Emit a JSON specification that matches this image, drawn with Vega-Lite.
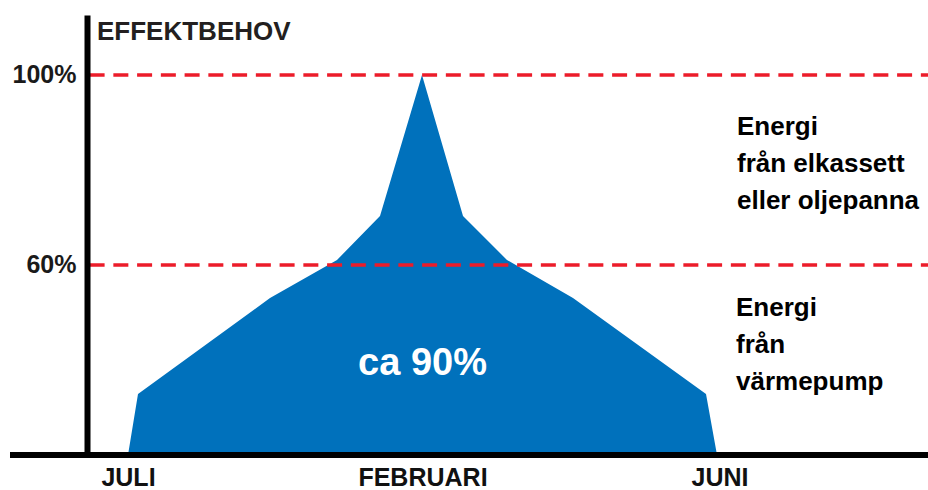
{
  "$schema": "https://vega.github.io/schema/vega-lite/v6.json",
  "width": 841,
  "height": 440,
  "autosize": {"type": "none"},
  "padding": {"left": 87, "top": 15, "right": 0, "bottom": 35},
  "background": "white",
  "config": {"view": {"stroke": null}, "font": "Liberation Sans"},
  "layer": [
    {
      "data": {"values": [
        {"t": 128, "effekt": 20},
        {"t": 138, "effekt": 32.84},
        {"t": 270, "effekt": 53.05},
        {"t": 337, "effekt": 61.05},
        {"t": 380, "effekt": 70.32},
        {"t": 422, "effekt": 100},
        {"t": 463, "effekt": 70.32},
        {"t": 507, "effekt": 61.05},
        {"t": 573, "effekt": 53.05},
        {"t": 706, "effekt": 32.84},
        {"t": 717, "effekt": 20}
      ]},
      "mark": {"type": "area", "color": "#0071bc", "interpolate": "linear"},
      "encoding": {
        "x": {"field": "t", "type": "quantitative", "scale": {"domain": [87, 928], "nice": false, "zero": false},
          "axis": {"title": null, "orient": "bottom", "domain": false, "ticks": false, "grid": false,
            "values": [128, 422.5, 719.5],
            "labelExpr": "datum.value < 200 ? 'JULI' : (datum.value < 600 ? 'FEBRUARI' : 'JUNI')",
            "labelFontSize": 25, "labelFontWeight": "bold", "labelColor": "#111111", "labelPadding": 10,
            "labelFlush": false, "labelOverlap": false, "labelBaseline": "top"}},
        "y": {"field": "effekt", "type": "quantitative", "scale": {"domain": [20, 112.63], "nice": false, "zero": false},
          "axis": {"title": null, "values": [60, 100], "labelExpr": "datum.value + '%'", "ticks": false, "grid": false,
            "domainWidth": 6, "domainColor": "#000000", "labelFontSize": 25, "labelFontWeight": "bold",
            "labelColor": "#1a1a1a", "labelPadding": 11, "zindex": 1, "labelFlush": false}},
        "y2": {"datum": 20}
      }
    },
    {
      "data": {"values": [{"niva": 60}, {"niva": 100}]},
      "mark": {"type": "rule", "color": "#ec1c2a", "strokeWidth": 3.5, "strokeDash": [15, 8.75]},
      "encoding": {
        "y": {"field": "niva", "type": "quantitative"},
        "x": {"datum": 89.6},
        "x2": {"datum": 928}
      }
    },
    {
      "data": {"values": [{"axel": "x"}]},
      "mark": {"type": "rule", "color": "#000000", "strokeWidth": 6},
      "encoding": {
        "y": {"datum": 20},
        "x": {"datum": 10},
        "x2": {"datum": 928}
      }
    },
    {
      "data": {"values": [{"etikett": "EFFEKTBEHOV"}]},
      "mark": {"type": "text", "fontSize": 26, "fontWeight": "bold", "color": "#231f20", "align": "left", "baseline": "alphabetic"},
      "encoding": {"text": {"field": "etikett"}, "x": {"datum": 97}, "y": {"datum": 107.37}}
    },
    {
      "data": {"values": [{"etikett": "ca 90%"}]},
      "mark": {"type": "text", "fontSize": 38, "fontWeight": "bold", "color": "#ffffff", "align": "center", "baseline": "alphabetic"},
      "encoding": {"text": {"field": "etikett"}, "x": {"datum": 422.5}, "y": {"datum": 36.84}}
    },
    {
      "data": {"values": [{"etikett": "elkassett"}]},
      "mark": {"type": "text", "text": ["Energi", "från elkassett", "eller oljepanna"], "fontSize": 26, "fontWeight": "bold", "color": "#000000", "align": "left", "baseline": "alphabetic", "lineHeight": 37},
      "encoding": {"x": {"datum": 737}, "y": {"datum": 87.37}}
    },
    {
      "data": {"values": [{"etikett": "värmepump"}]},
      "mark": {"type": "text", "text": ["Energi", "från", "värmepump"], "fontSize": 26, "fontWeight": "bold", "color": "#000000", "align": "left", "baseline": "alphabetic", "lineHeight": 37},
      "encoding": {"x": {"datum": 736}, "y": {"datum": 49.26}}
    }
  ]
}
